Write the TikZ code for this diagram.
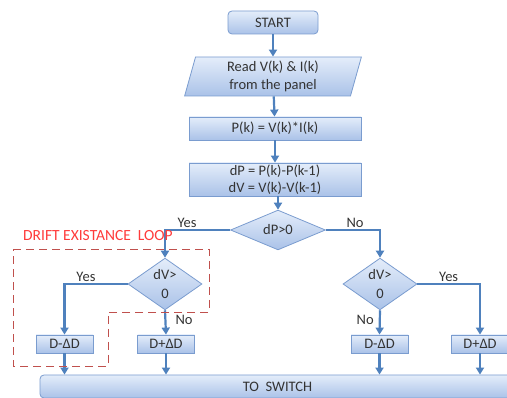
\documentclass[tikz,border=0pt]{standalone}
\usepackage{fontspec}
\setmainfont{Carlito}
\usetikzlibrary{shapes.geometric,arrows.meta}
\definecolor{edgeblue}{HTML}{7A9CCF}
\definecolor{flowblue}{HTML}{4F81BD}
\definecolor{boxtop}{HTML}{E4EDFA}
\definecolor{boxbot}{HTML}{AAC2E8}
\definecolor{txtgray}{HTML}{333333}
\definecolor{loopred}{HTML}{C0504D}
\definecolor{labred}{HTML}{FF3B3B}

\tikzset{
  blk/.style={draw=edgeblue, line width=0.8pt, top color=boxtop, bottom color=boxbot,
    text=txtgray, font=\fontsize{14.5}{17.5}\selectfont, inner sep=0pt, align=center},
  proc/.style={blk, rectangle, minimum width=172, minimum height=23},
  small/.style={blk, rectangle, minimum width=57, minimum height=18},
  term/.style={blk, rectangle, rounded corners=4pt, minimum height=23},
  io/.style={blk, trapezium, trapezium left angle=78, trapezium right angle=102,
    trapezium stretches=true, minimum width=177, minimum height=39},
  test/.style={blk, diamond, minimum width=74, minimum height=44},
  flow/.style={draw=flowblue, line width=2.2pt, -{Triangle[length=7pt,width=8pt]}},
  lbl/.style={text=txtgray, font=\fontsize{14.5}{17.5}\selectfont, inner sep=1pt}
}

\begin{document}
\begin{tikzpicture}[x=1pt, y=-1pt]
  \useasboundingbox (0,0) rectangle (507,398);
  % main column
  \node[term, minimum width=90] (start) at (273,22.5) {START};
  \node[io] (read) at (273,76.5) {Read V(k) \& I(k)\\from the panel};
  \node[proc] (pk) at (275,128.5) {P(k) = V(k)*I(k)};
  \node[proc, minimum height=33] (dpdv) at (275,179.5) {dP = P(k)-P(k-1)\\dV = V(k)-V(k-1)};
  \node[test, minimum width=95, minimum height=24] (dp) at (278,230) {dP>0};
  % the two dV tests
  \node[test] (dvl) at (165,284) {dV>\\[1pt]0};
  \node[test] (dvr) at (380,284) {dV>\\[1pt]0};
  % duty cycle steps
  \node[small] (dml) at (64.5,344) {D-ΔD};
  \node[small] (dpl) at (166,344) {D+ΔD};
  \node[small] (dmr) at (379.5,344) {D-ΔD};
  \node[small] (dpr) at (480,344) {D+ΔD};
  \node[term, minimum width=475] (sw) at (277.5,386.5) {TO\ \ SWITCH};

  \draw[flow] (start) -- (read);
  \draw[flow] (read) -- (pk);
  \draw[flow] (pk) -- (dpdv);
  \draw[flow] (dpdv.south -| dp.north) -- (dp.north);
  \draw[flow] (dp.west) -| node[lbl, pos=0.33, above] {Yes} (dvl.north);
  \draw[flow] (dp.east) -| node[lbl, pos=0.27, above] {No} (dvr.north);
  \draw[flow] (dvl.west) -| node[lbl, pos=0.33, above] {Yes} (dml.north);
  \draw[flow] (dvl.south) -- node[lbl, pos=0.4, right, xshift=8pt] {No} (dpl.north);
  \draw[flow] (dvr.south) -- node[lbl, pos=0.4, left, xshift=-4pt] {No} (dmr.north);
  \draw[flow] (dvr.east) -| node[lbl, pos=0.25, above] {Yes} (dpr.north);
  \foreach \b in {dml, dpl, dmr, dpr}
    \draw[flow] (\b.south) -- (\b.south |- sw.north);

  % drift existance loop
  \draw[loopred, line width=0.9pt, dash pattern=on 8pt off 5pt]
    (13,249) -- (209,249) -- (209,312) -- (108,312) -- (108,366) -- (13,366) -- cycle;
  \node[lbl, text=labred, anchor=west, font=\fontsize{15.5}{18}\selectfont] (loop) at (22,236) {DRIFT EXISTANCE\ \ LOOP};
\end{tikzpicture}
\end{document}
